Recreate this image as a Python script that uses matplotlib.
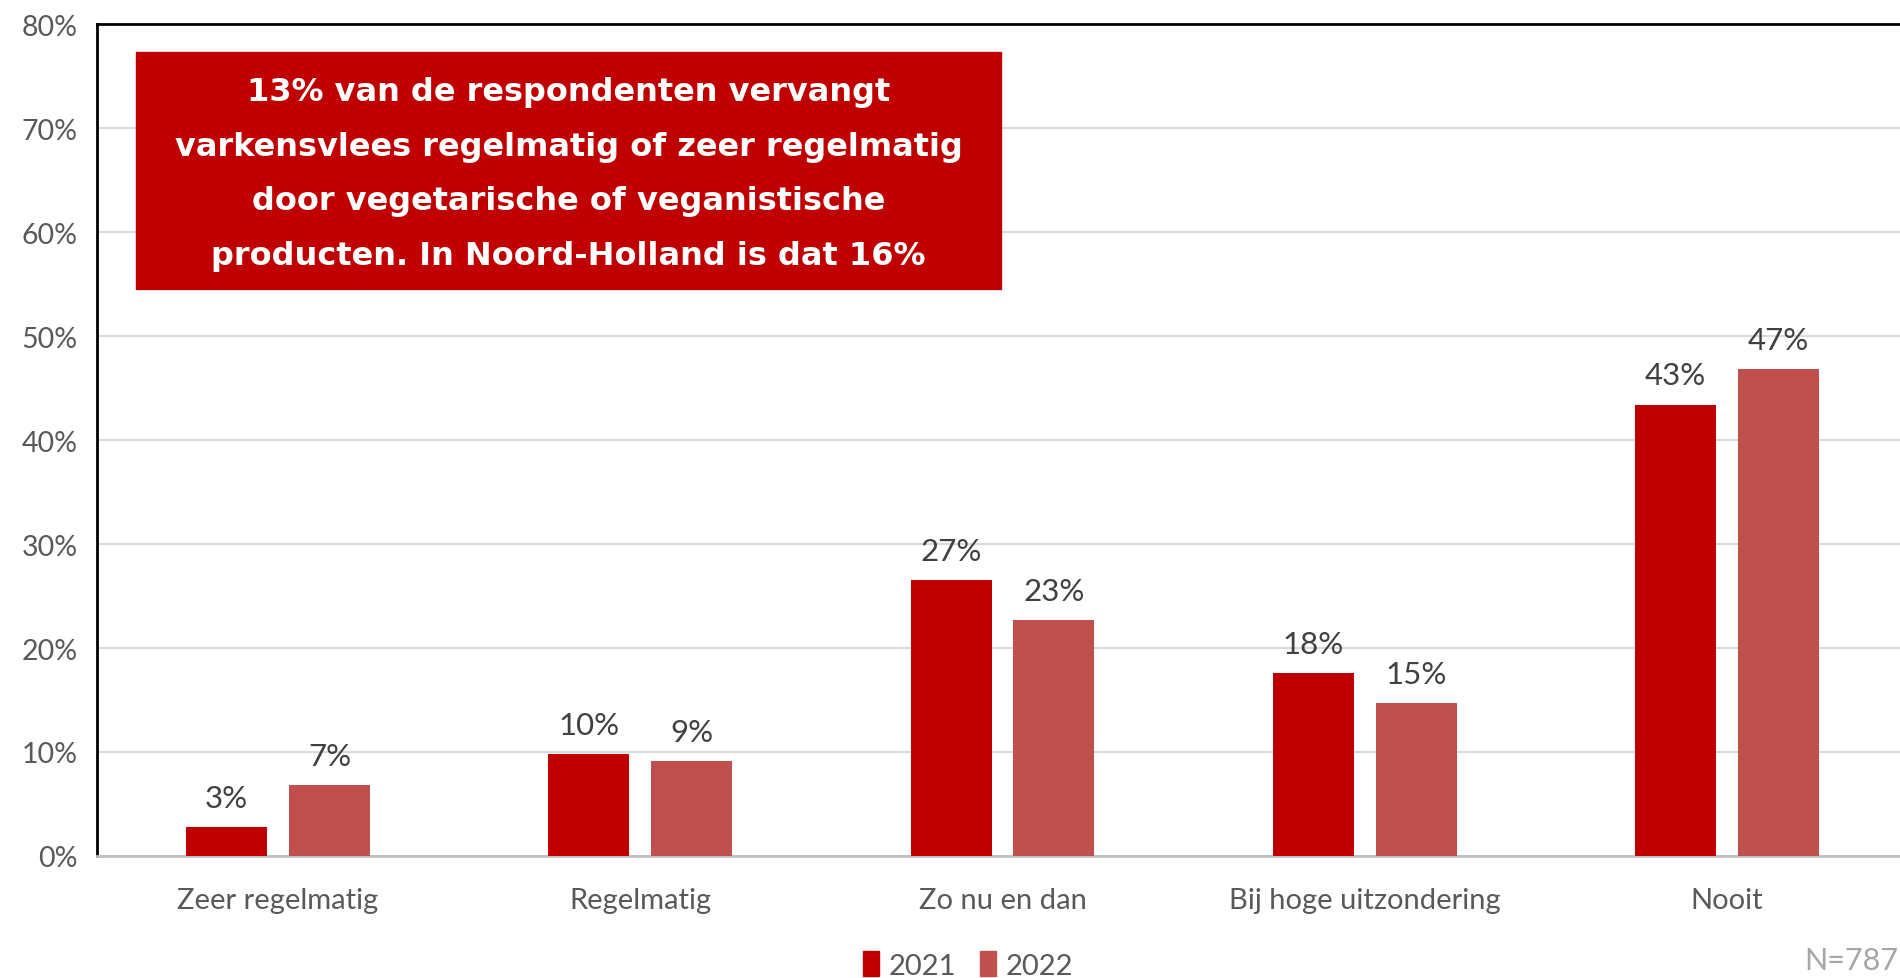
import numpy as np
import matplotlib
matplotlib.use("Agg")
import matplotlib.pyplot as plt
from matplotlib.patches import Patch

categories = ["Zeer regelmatig", "Regelmatig", "Zo nu en dan", "Bij hoge uitzondering", "Nooit"]
years = ["2021", "2022"]
values_2021 = [2.8, 9.8, 26.5, 17.6, 43.4]
values_2022 = [6.8, 9.1, 22.7, 14.7, 46.8]
labels_2021 = ["3%", "10%", "27%", "18%", "43%"]
labels_2022 = ["7%", "9%", "23%", "15%", "47%"]
colors = ["#C00000", "#C0504D"]
note = ("13% van de respondenten vervangt\n"
        "varkensvlees regelmatig of zeer regelmatig\n"
        "door vegetarische of veganistische\n"
        "producten. In Noord-Holland is dat 16%")

plt.rcParams['font.family'] = ['Lato', 'DejaVu Sans']

fig = plt.figure(figsize=(19, 9.79), dpi=100)
ax = fig.add_axes([97/1900, 1 - 857/979, 1811/1900, (857 - 25)/979])

x = np.arange(len(categories))
w = 0.224
off = 0.142
b1 = ax.bar(x - off, values_2021, w, color=colors[0], zorder=3)
b2 = ax.bar(x + off, values_2022, w, color=colors[1], zorder=3)

for bars, labs in [(b1, labels_2021), (b2, labels_2022)]:
    for rect, lab in zip(bars, labs):
        ax.annotate(lab, (rect.get_x() + rect.get_width()/2, rect.get_height()),
                    xytext=(0, 11), textcoords="offset points", ha="center", va="bottom",
                    fontsize=22.5, color="#404040")

ax.set_xlim(-0.5, len(categories) - 0.5)
ax.set_ylim(0, 80)
ax.set_yticks(range(0, 81, 10))
ax.set_yticklabels([f"{v}%" for v in range(0, 81, 10)], fontsize=20.5, color="#595959")
ax.set_xticks(x)
ax.set_xticklabels(categories, fontsize=21, color="#595959")
ax.tick_params(length=0)
ax.tick_params(axis="x", pad=22)
ax.tick_params(axis="y", pad=14)
ax.grid(axis="y", color="#D9D9D9", lw=1.5, zorder=0)
ax.spines["left"].set_color("black")
ax.spines["left"].set_linewidth(2)
ax.spines["top"].set_color("black")
ax.spines["top"].set_linewidth(2)
ax.spines["bottom"].set_color("#BFBFBF")
ax.spines["bottom"].set_linewidth(2)
ax.spines["right"].set_visible(False)

# red callout box
fig.patches.append(plt.Rectangle((136/1900, 1 - 290/979), 865/1900, 237/979,
                                 transform=fig.transFigure, color="#C00000", zorder=5))
fig.text((136 + 865/2)/1900, 1 - (56 + 237/2)/979, note, ha="center", va="center",
         color="white", fontsize=23, fontweight="bold", family="DejaVu Sans",
         linespacing=1.98, zorder=6)

handles = [Patch(color=c) for c in colors]
fig.legend(handles, years, loc="center", bbox_to_anchor=(968/1900, 1 - 966/979),
           ncol=2, frameon=False, fontsize=21, labelcolor="#595959",
           handlelength=0.55, handleheight=0.9, handletextpad=0.35, columnspacing=0.8)

fig.text(0.999, 1 - 961/979, "N=787", ha="right", va="center", fontsize=22, color="#A6A6A6")

fig.savefig("out.png", dpi=100)
